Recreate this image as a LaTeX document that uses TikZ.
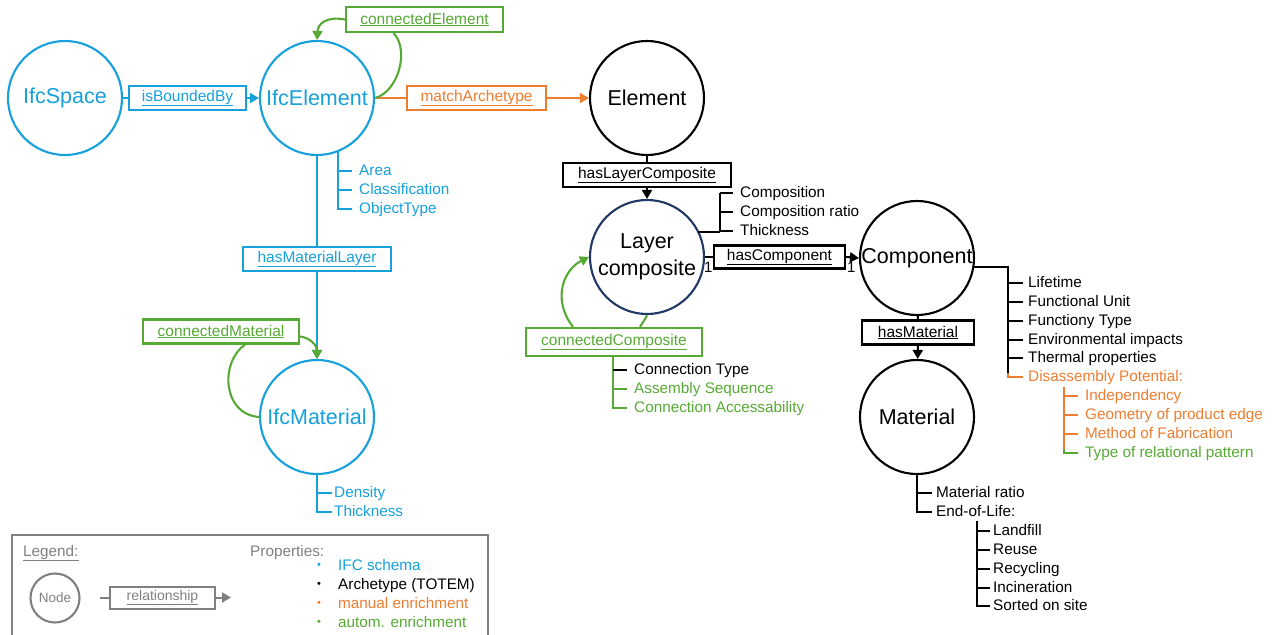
\documentclass[tikz,border=0pt]{standalone}
\usepackage{fontspec}
\setmainfont{Liberation Sans}
\usetikzlibrary{arrows.meta}
\definecolor{ifcblue}{RGB}{22,160,220}
\definecolor{agreen}{RGB}{86,170,52}
\definecolor{morange}{RGB}{237,125,49}
\definecolor{lgray}{RGB}{128,128,128}
\definecolor{navy}{RGB}{32,56,100}
\tikzset{
  circ/.style={circle, draw, line width=2.1pt, minimum size=114pt, inner sep=0pt,
    font=\fontsize{21.5}{27}\selectfont, align=center},
  rel/.style={draw, line width=2.2pt, inner sep=0pt, minimum height=24pt,
    font=\fontsize{15.5}{18}\selectfont},
  prop/.style={anchor=west, inner sep=0pt, text height=11pt, text depth=3pt,
    font=\fontsize{15.3}{18}\selectfont},
  conn/.style={line width=2.1pt},
  tick/.style={line width=2.1pt},
  arr/.style={-{Triangle[width=10pt,length=9pt]}},
  one/.style={inner sep=0pt, font=\fontsize{15}{18}\selectfont}
}
\begin{document}
\begin{tikzpicture}[x=1pt,y=-1pt]
\useasboundingbox (0,0) rectangle (1276,634);

% ---- main nodes
\node[circ, ifcblue] (sp) at (65,98) {IfcSpace};
\node[circ, ifcblue] (ie) at (317,98) {IfcElement};
\node[circ] (el) at (647,98) {Element};
\node[circ, draw=navy] (lc) at (647,257) {Layer\\composite};
\node[circ] (co) at (917,258) {Component};
\node[circ] (ma) at (917,417) {Material};
\node[circ, ifcblue] (im) at (317,417) {IfcMaterial};

% ---- relationship boxes
\node[rel, ifcblue, minimum width=117pt] (ib) at (187.5,98) {\underline{isBoundedBy}};
\node[rel, morange, minimum width=139pt] (mA) at (476.5,98) {\underline{matchArchetype}};
\node[rel, agreen, minimum width=157pt, minimum height=25pt] (cE) at (424.5,19.5) {\underline{connectedElement}};
\node[rel, ifcblue, minimum width=148pt] (hML) at (317,259) {\underline{hasMaterialLayer}};
\node[rel, agreen, minimum width=156pt] (cM) at (221,331.5) {\underline{connectedMaterial}};
\node[rel, minimum width=168pt] (hLC) at (647,175) {\underline{hasLayerComposite}};
\node[rel, minimum width=131pt, minimum height=23pt] (hC) at (779.5,257) {\underline{hasComponent}};
\node[rel, minimum width=112pt] (hM) at (918,332.5) {\underline{hasMaterial}};
\node[rel, agreen, minimum width=176pt, minimum height=28pt] (cC) at (614,342) {\underline{connectedComposite}};

% ---- connectors
\draw[conn, ifcblue] (sp) -- (ib);
\draw[conn, ifcblue, arr] (ib) -- (ie);
\draw[conn, morange] (ie) -- (mA);
\draw[conn, morange, arr] (mA) -- (el);
\draw[conn, ifcblue] (ie) -- (hML);
\draw[conn, ifcblue, arr] (hML) -- (im);
\draw[conn] (el) -- (hLC);
\draw[conn, arr] (hLC) -- (lc);
\draw[conn] (lc.east) -- (hC.west);
\draw[conn, arr] (hC.east) -- (co.west);
\draw[conn] (co) -- (hM);
\draw[conn, arr] (hM) -- (ma);
\node[one, anchor=north west] (n1) at (704,262) {1};
\node[one, anchor=north west] (n2) at (847,262) {1};

% green self loops
\draw[conn, agreen] (ie.east) .. controls (398,92) and (410,50) .. ([xshift=-31pt]cE.south);
\draw[conn, agreen, arr] (cE.west) .. controls (326,16) and (318,24) .. (ie.north);
\draw[conn, agreen, arr] ([yshift=-5pt]cM.east) .. controls (311,338) and (317,346) .. (im.north);
\draw[conn, agreen] ([xshift=24pt]cM.south) .. controls (220,362) and (222,414) .. (im.west);
\draw[conn, agreen, arr] ([xshift=-41pt]cC.north) .. controls (552,300) and (563,270) .. (lc.west);
\draw[conn, agreen] ([xshift=26pt]cC.north) .. controls (643,322) and (646,318) .. (lc.south);

% ---- IfcElement properties
\node[prop, ifcblue] (pa1) at (359,171) {Area};
\node[prop, ifcblue] (pa2) at (359,190) {Classification};
\node[prop, ifcblue] (pa3) at (359,209) {ObjectType};
\draw[tick, ifcblue] (338,151) -- (338,209) -- ([xshift=-7pt]pa3.west);
\draw[tick, ifcblue] (338,171) -- ([xshift=-7pt]pa1.west);
\draw[tick, ifcblue] (338,190) -- ([xshift=-7pt]pa2.west);

% ---- IfcMaterial properties
\node[prop, ifcblue] (pb1) at (334,493) {Density};
\node[prop, ifcblue] (pb2) at (334,512) {Thickness};
\draw[tick, ifcblue] (im.south) -- (317,512) -- ([xshift=-2pt]pb2.west);
\draw[tick, ifcblue] (317,493) -- ([xshift=-2pt]pb1.west);

% ---- Layer composite properties
\node[prop] (pc1) at (740,193) {Composition};
\node[prop] (pc2) at (740,212) {Composition ratio};
\node[prop] (pc3) at (740,231) {Thickness};
\draw[tick] (698,232) -- (720,232);
\draw[tick] (720,193) -- (720,232);
\draw[tick] (720,193) -- ([xshift=-7pt]pc1.west);
\draw[tick] (720,212) -- ([xshift=-7pt]pc2.west);
\draw[tick] (720,231) -- ([xshift=-7pt]pc3.west);

% ---- connectedComposite properties
\node[prop] (pd1) at (634,370) {Connection Type};
\node[prop, agreen] (pd2) at (634,389) {Assembly Sequence};
\node[prop, agreen] (pd3) at (634,408) {Connection Accessability};
\draw[tick, agreen] (613,356) -- (613,408) -- ([xshift=-7pt]pd3.west);
\draw[tick, agreen] (613,389) -- ([xshift=-7pt]pd2.west);
\draw[tick] (613,370) -- ([xshift=-7pt]pd1.west);

% ---- Component properties
\node[prop] (pe1) at (1028,283) {Lifetime};
\node[prop] (pe2) at (1028,302) {Functional Unit};
\node[prop] (pe3) at (1028,321) {Functiony Type};
\node[prop] (pe4) at (1028,340) {Environmental impacts};
\node[prop] (pe5) at (1028,358) {Thermal properties};
\node[prop, morange] (pe6) at (1028,377) {Disassembly Potential:};
\draw[tick] (973,267) -- (1008,267) -- (1008,374);
\draw[tick, morange] (1008,373) -- (1008,377) -- ([xshift=-5pt]pe6.west);
\foreach \n in {pe1,pe2,pe3,pe4,pe5}
  \draw[tick] (\n.west -| 1008,0) -- ([xshift=-5pt]\n.west);
\node[prop, morange] (pf1) at (1085,396) {Independency};
\node[prop, morange] (pf2) at (1085,415) {Geometry of product edge};
\node[prop, morange] (pf3) at (1085,434) {Method of Fabrication};
\node[prop, agreen] (pf4) at (1085,453) {Type of relational pattern};
\draw[tick, morange] (1064,387) -- (1064,450);
\draw[tick, agreen] (1064,449) -- (1064,453) -- ([xshift=-7pt]pf4.west);
\foreach \n in {pf1,pf2,pf3}
  \draw[tick, morange] (\n.west -| 1064,0) -- ([xshift=-7pt]\n.west);

% ---- Material properties
\node[prop] (pg1) at (936,493) {Material ratio};
\node[prop] (pg2) at (936,512) {End-of-Life:};
\draw[tick] (ma.south) -- (917,512) -- ([xshift=-4pt]pg2.west);
\draw[tick] (917,493) -- ([xshift=-4pt]pg1.west);
\node[prop] (ph1) at (993,531) {Landfill};
\node[prop] (ph2) at (993,550) {Reuse};
\node[prop] (ph3) at (993,569) {Recycling};
\node[prop] (ph4) at (993,588) {Incineration};
\node[prop] (ph5) at (993,606) {Sorted on site};
\draw[tick] (977,521) -- (977,606) -- ([xshift=-3pt]ph5.west);
\foreach \n in {ph1,ph2,ph3,ph4}
  \draw[tick] (\n.west -| 977,0) -- ([xshift=-3pt]\n.west);

% ---- Legend
\draw[lgray, line width=2.1pt] (12,636) -- (12,535) -- (488,535) -- (488,636);
\node[prop, lgray] (lg) at (23,552) {\underline{Legend:}};
\node[circle, draw=lgray, text=lgray, line width=2.1pt, minimum size=49pt, inner sep=0pt,
  font=\fontsize{13.5}{16}\selectfont] (lnode) at (55,598) {Node};
\node[rel, lgray, line width=2pt, minimum width=105pt, minimum height=22pt,
  font=\fontsize{14}{17}\selectfont] (lrel) at (162.5,597.5) {\underline{relationship}};
\coordinate (lstart) at (100,597.5);
\coordinate (lend) at (231,597.5);
\draw[conn, lgray, line width=2pt] (lstart) -- (lrel.west);
\draw[conn, lgray, line width=2pt, arr] (lrel.east) -- (lend);
\node[prop, lgray] (lp) at (250,552) {Properties:};
\node[prop, ifcblue] (l1) at (338,566) {IFC schema};
\node[prop] (l2) at (338,585) {Archetype (TOTEM)};
\node[prop, morange] (l3) at (338,604) {manual enrichment};
\node[prop, agreen] (l4) at (338,623) {autom. enrichment};
\foreach \n/\c in {l1/ifcblue,l2/black,l3/morange,l4/agreen}
  \node[inner sep=0pt, text=\c, font=\fontsize{11}{12}\selectfont] at ([xshift=-19pt]\n.west) {\textbullet};
\end{tikzpicture}
\end{document}
